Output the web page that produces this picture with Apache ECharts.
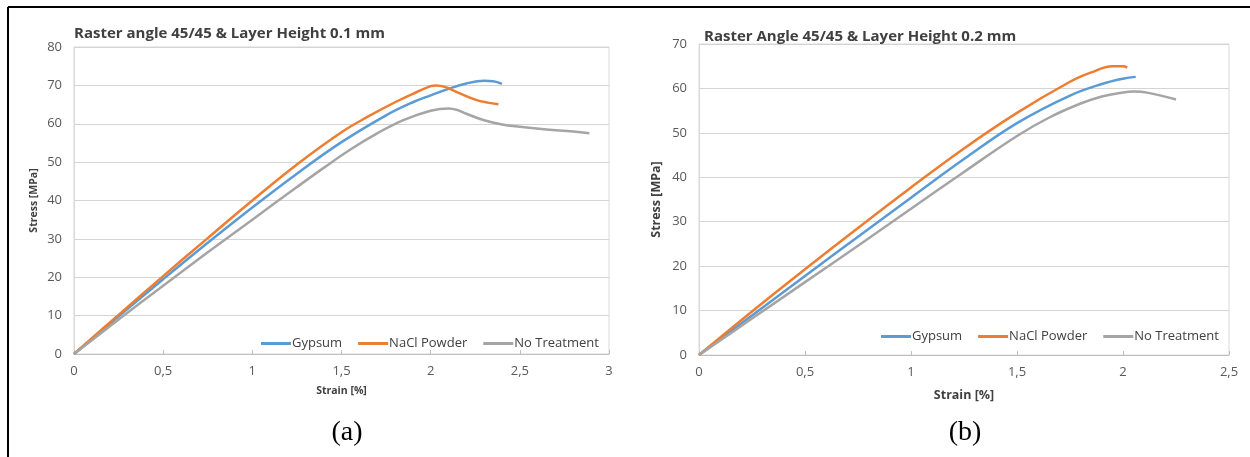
<!DOCTYPE html>
<html>
<head>
<meta charset="utf-8">
<script src="https://cdn.jsdelivr.net/npm/echarts@6/dist/echarts.min.js"></script>
<style>
html,body{margin:0;padding:0;background:#fff;}
#main{width:1250px;height:457px;}
</style>
</head>
<body>
<div id="main"></div>
<script>
// ---- Data ----
const titleA = "Raster angle 45/45 & Layer Height 0.1 mm";
const titleB = "Raster Angle 45/45 & Layer Height 0.2 mm";
const seriesNames = ["Gypsum", "NaCl Powder", "No Treatment"];
const captionA = "(a)";
const captionB = "(b)";
const yNameText = "Stress [MPa]";
const xNameText = "Strain [%]";

// Panel (a): [strain %, stress MPa]
const gypsumA = [[0,0],[0.25,9.8],[0.5,19.5],[0.75,29],[1,38.2],[1.25,47],[1.5,55.2],[1.75,62.2],[1.9,65.6],[2,67.4],[2.1,69.1],[2.2,70.5],[2.3,71.2],[2.35,71.1],[2.4,70.4]];
const naclA = [[0,0],[0.25,10.2],[0.5,20.3],[0.75,30.2],[1,40],[1.25,49.4],[1.5,57.8],[1.65,61.9],[1.8,65.6],[1.9,67.8],[2,69.8],[2.03,70],[2.08,69.6],[2.15,68.2],[2.25,66.3],[2.32,65.5],[2.38,65.1]];
const noTreatA = [[0,0],[0.25,9],[0.5,17.8],[0.75,26.5],[1,35],[1.25,43.5],[1.4,48.5],[1.55,53.3],[1.7,57.5],[1.85,61],[2,63.4],[2.1,64],[2.15,63.6],[2.2,62.6],[2.3,60.9],[2.4,59.8],[2.5,59.2],[2.65,58.5],[2.8,58],[2.89,57.5]];

// Panel (b)
const gypsumB = [[0,0],[0.25,8.9],[0.5,17.8],[0.75,26.6],[1,35.4],[1.25,44.1],[1.5,52.2],[1.75,58.4],[1.9,61],[2,62.2],[2.06,62.6]];
const naclB = [[0,0],[0.25,9.8],[0.5,19.3],[0.75,28.6],[1,37.7],[1.25,46.5],[1.5,54.5],[1.75,61.5],[1.85,63.6],[1.95,65],[2.0,65],[2.02,64.7]];
const noTreatB = [[0,0],[0.25,8.2],[0.5,16.4],[0.75,24.6],[1,32.9],[1.25,41.2],[1.5,49.3],[1.65,53.4],[1.8,56.6],[1.9,58.2],[2,59.1],[2.05,59.3],[2.12,59],[2.25,57.5]];

const colors = ["#5B9BD5", "#ED7D31", "#A5A5A5"];

// ---- Chart ----
const chart = echarts.init(document.getElementById('main'), null, {renderer:'canvas'});
const fmt = v => String(v).replace('.', ',');
const labelFont = {color:'#595959', fontSize:13, fontFamily:'Open Sans'};

function xAxis(idx, max, nameGap, nameSize){
  return {
    type:'value', gridIndex:idx, min:0, max:max, interval:0.5,
    name:xNameText, nameLocation:'middle', nameGap:nameGap,
    nameTextStyle:{fontWeight:'bold', fontSize:nameSize, color:'#404040', fontFamily:'Open Sans'},
    axisLine:{lineStyle:{color:'#BFBFBF', width:1}},
    axisTick:{show:true, inside:true, length:4, lineStyle:{color:'#BFBFBF'}},
    axisLabel:Object.assign({formatter:fmt, margin:11}, labelFont),
    splitLine:{show:false}
  };
}
function yAxis(idx, max, nameGap, nameSize){
  return {
    type:'value', gridIndex:idx, min:0, max:max, interval:10,
    name:yNameText, nameLocation:'middle', nameGap:nameGap, nameRotate:90,
    nameTextStyle:{fontWeight:'bold', fontSize:nameSize, color:'#404040', fontFamily:'Open Sans'},
    axisLine:{show:true, lineStyle:{color:'#D9D9D9'}},
    axisTick:{show:false},
    axisLabel:Object.assign({margin:12}, labelFont),
    splitLine:{lineStyle:{color:'#D4D4D4', width:1}}
  };
}
function mk(name, data, c, xi){
  return {type:'line', name:name, data:data, xAxisIndex:xi, yAxisIndex:xi,
    showSymbol:false, smooth:0.4, lineStyle:{color:c, width:2.5}, itemStyle:{color:c}};
}

const legendBase = {
  icon:'rect', itemWidth:30, itemHeight:3, itemGap:16,
  textStyle:{color:'#404040', fontSize:13, fontFamily:'Open Sans', padding:[0,0,0,-4]},
  data:seriesNames
};

const option = {
  animation:false,
  backgroundColor:'#ffffff',
  title:[
    {text:titleA, left:69, top:21, textStyle:{fontSize:15, fontWeight:'bold', color:'#404040', fontFamily:'Open Sans'}},
    {text:titleB, left:699, top:24, textStyle:{fontSize:15, fontWeight:'bold', color:'#404040', fontFamily:'Open Sans'}},
    {text:captionA, left:342, top:414, textAlign:'center', textStyle:{fontSize:28, fontWeight:'normal', color:'#000', fontFamily:'Liberation Serif'}},
    {text:captionB, left:960, top:414, textAlign:'center', textStyle:{fontSize:28, fontWeight:'normal', color:'#000', fontFamily:'Liberation Serif'}}
  ],
  legend:[
    Object.assign({left:256, top:332}, legendBase),
    Object.assign({left:876, top:325}, legendBase)
  ],
  grid:[
    {left:74, right:641, top:47, bottom:103, show:true, borderColor:'#D9D9D9', borderWidth:1},
    {left:699, right:21, top:44, bottom:102, show:true, borderColor:'#D9D9D9', borderWidth:1}
  ],
  xAxis:[xAxis(0, 3, 32, 10.5), xAxis(1, 2.5, 34, 12.5)],
  yAxis:[yAxis(0, 80, 34, 10.5), yAxis(1, 70, 36, 12.5)],
  series:[
    mk(seriesNames[0], gypsumA, colors[0], 0),
    mk(seriesNames[1], naclA, colors[1], 0),
    mk(seriesNames[2], noTreatA, colors[2], 0),
    mk(seriesNames[0], gypsumB, colors[0], 1),
    mk(seriesNames[1], naclB, colors[1], 1),
    mk(seriesNames[2], noTreatB, colors[2], 1)
  ],
  graphic:[
    {type:'line', shape:{x1:8, y1:7, x2:1250, y2:7}, style:{stroke:'#000', lineWidth:2}, silent:true},
    {type:'line', shape:{x1:8, y1:7, x2:8, y2:457}, style:{stroke:'#000', lineWidth:2}, silent:true}
  ]
};
chart.setOption(option);
</script>
</body>
</html>
